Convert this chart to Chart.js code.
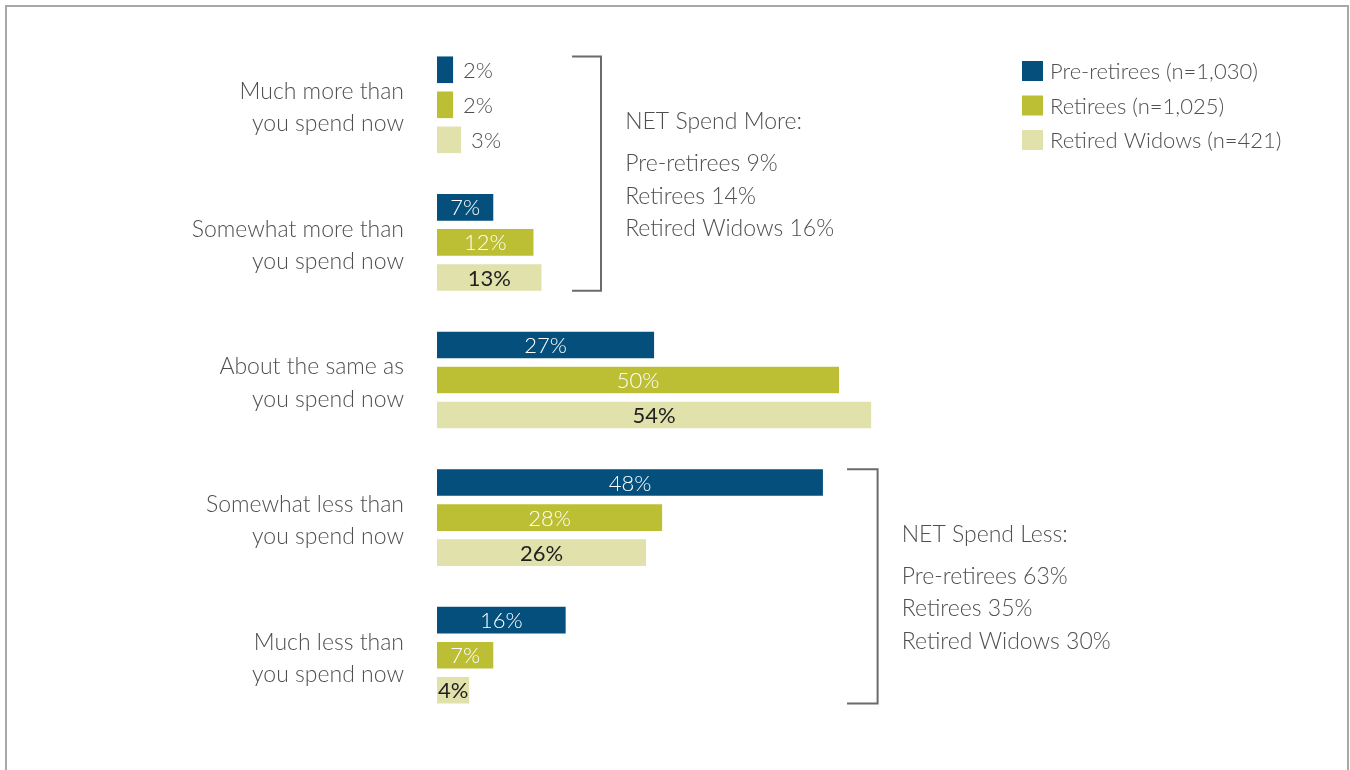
<!DOCTYPE html>
<html>
<head>
<meta charset="utf-8">
<script src="https://cdn.jsdelivr.net/npm/chart.js@4.4.1/dist/chart.umd.min.js"></script>
<style>
  html, body { margin: 0; padding: 0; background: #fff; }
  #wrap { position: relative; width: 1350px; height: 770px; overflow: hidden; }
  #frame { position: absolute; left: 5px; top: 5px; width: 1340px; height: 800px; border: 2px solid #a8a8a8; }
  #chart { position: absolute; left: 0; top: 0; }
</style>
</head>
<body>
<div id="wrap">
  <div id="frame"></div>
  <canvas id="chart" width="1350" height="770"></canvas>
</div>
<script>
var categories = [
  ["Much more than", "you spend now"],
  ["Somewhat more than", "you spend now"],
  ["About the same as", "you spend now"],
  ["Somewhat less than", "you spend now"],
  ["Much less than", "you spend now"]
];
var seriesNames = ["Pre-retirees (n=1,030)", "Retirees (n=1,025)", "Retired Widows (n=421)"];
var shortNames = ["Pre-retirees", "Retirees", "Retired Widows"];
var preRetirees = [2, 7, 27, 48, 16];
var retirees = [2, 12, 50, 28, 7];
var widows = [3, 13, 54, 26, 4];
var netMore = [9, 14, 16];
var netLess = [63, 35, 30];
var colors = ["#044f7c", "#bcbf33", "#e0e1ab"];

var FONT = "Lato, 'Open Sans', sans-serif";
var TEXT = "#4f4f4f";

// value labels, brackets with NET totals, and the legend box
var extras = {
  id: 'extras',
  afterDatasetsDraw: function (chart) {
    var ctx = chart.ctx;
    var x = chart.scales.x;
    ctx.save();

    chart.data.datasets.forEach(function (ds, di) {
      var meta = chart.getDatasetMeta(di);
      meta.data.forEach(function (bar, i) {
        var v = ds.data[i];
        var txt = v + "%";
        ctx.textBaseline = 'middle';
        if (v <= 3) {
          ctx.font = "300 22px " + FONT;
          ctx.fillStyle = TEXT;
          ctx.textAlign = 'left';
          ctx.fillText(txt, bar.x + 10, bar.y + 1);
        } else if (di === 2) {
          ctx.font = "400 22px " + FONT;
          ctx.fillStyle = "#1f1f1f";
          ctx.textAlign = 'center';
          ctx.fillText(txt, (bar.x + bar.base) / 2, bar.y + 1);
        } else {
          ctx.font = "300 22px " + FONT;
          ctx.fillStyle = "#ffffff";
          ctx.textAlign = 'center';
          ctx.fillText(txt, (bar.x + bar.base) / 2, bar.y + 1);
        }
      });
    });

    function bracket(first, last, x0, x1, tx, title, vals) {
      var top = chart.getDatasetMeta(0).data[first];
      var bot = chart.getDatasetMeta(2).data[last];
      var y0 = top.y - top.height / 2;
      var y1 = bot.y + bot.height / 2;
      var xl = x.getPixelForValue(x0), xr = x.getPixelForValue(x1);
      ctx.strokeStyle = "#6b6b6b";
      ctx.lineWidth = 2;
      ctx.beginPath();
      ctx.moveTo(xl, y0);
      ctx.lineTo(xr, y0);
      ctx.lineTo(xr, y1);
      ctx.lineTo(xl, y1);
      ctx.stroke();

      var mid = (y0 + y1) / 2;
      var px = x.getPixelForValue(tx);
      ctx.font = "300 23px " + FONT;
      ctx.fillStyle = TEXT;
      ctx.textAlign = 'left';
      ctx.textBaseline = 'middle';
      ctx.fillText(title, px, mid - 52);
      vals.forEach(function (v, k) {
        ctx.fillText(shortNames[k] + " " + v + "%", px, mid - 10 + k * 32.5);
      });
    }
    bracket(0, 1, 16.8, 20.4, 23.4, "NET Spend More:", netMore);
    bracket(3, 4, 51.0, 54.8, 57.8, "NET Spend Less:", netLess);

    // legend
    ctx.font = "300 22px " + FONT;
    ctx.textAlign = 'left';
    ctx.textBaseline = 'middle';
    seriesNames.forEach(function (name, k) {
      var cy = 71 + k * 34.5;
      ctx.fillStyle = colors[k];
      ctx.fillRect(1022, cy - 10, 21, 20);
      ctx.fillStyle = TEXT;
      ctx.fillText(name, 1050, cy + 1);
    });

    ctx.restore();
  }
};

new Chart(document.getElementById("chart"), {
  type: 'bar',
  data: {
    labels: categories,
    datasets: [
      { label: seriesNames[0], data: preRetirees, backgroundColor: colors[0] },
      { label: seriesNames[1], data: retirees, backgroundColor: colors[1] },
      { label: seriesNames[2], data: widows, backgroundColor: colors[2] }
    ]
  },
  options: {
    indexAxis: 'y',
    responsive: false,
    animation: false,
    events: [],
    layout: { padding: { left: 0, right: 109, top: 36, bottom: 46 } },
    datasets: { bar: { categoryPercentage: 0.764, barPercentage: 0.76 } },
    plugins: { legend: { display: false }, tooltip: { enabled: false } },
    scales: {
      x: { display: false, min: 0, max: 100 },
      y: {
        grid: { display: false, drawTicks: false },
        border: { display: false },
        ticks: {
          color: TEXT,
          padding: 33,
          labelOffset: 3,
          font: { family: FONT, size: 23, weight: '300', lineHeight: 1.4 }
        },
        afterFit: function (scale) {
          scale.width = 437;
          scale.paddingTop = 0;
          scale.paddingBottom = 0;
        }
      }
    }
  },
  plugins: [extras]
});
</script>
</body>
</html>
